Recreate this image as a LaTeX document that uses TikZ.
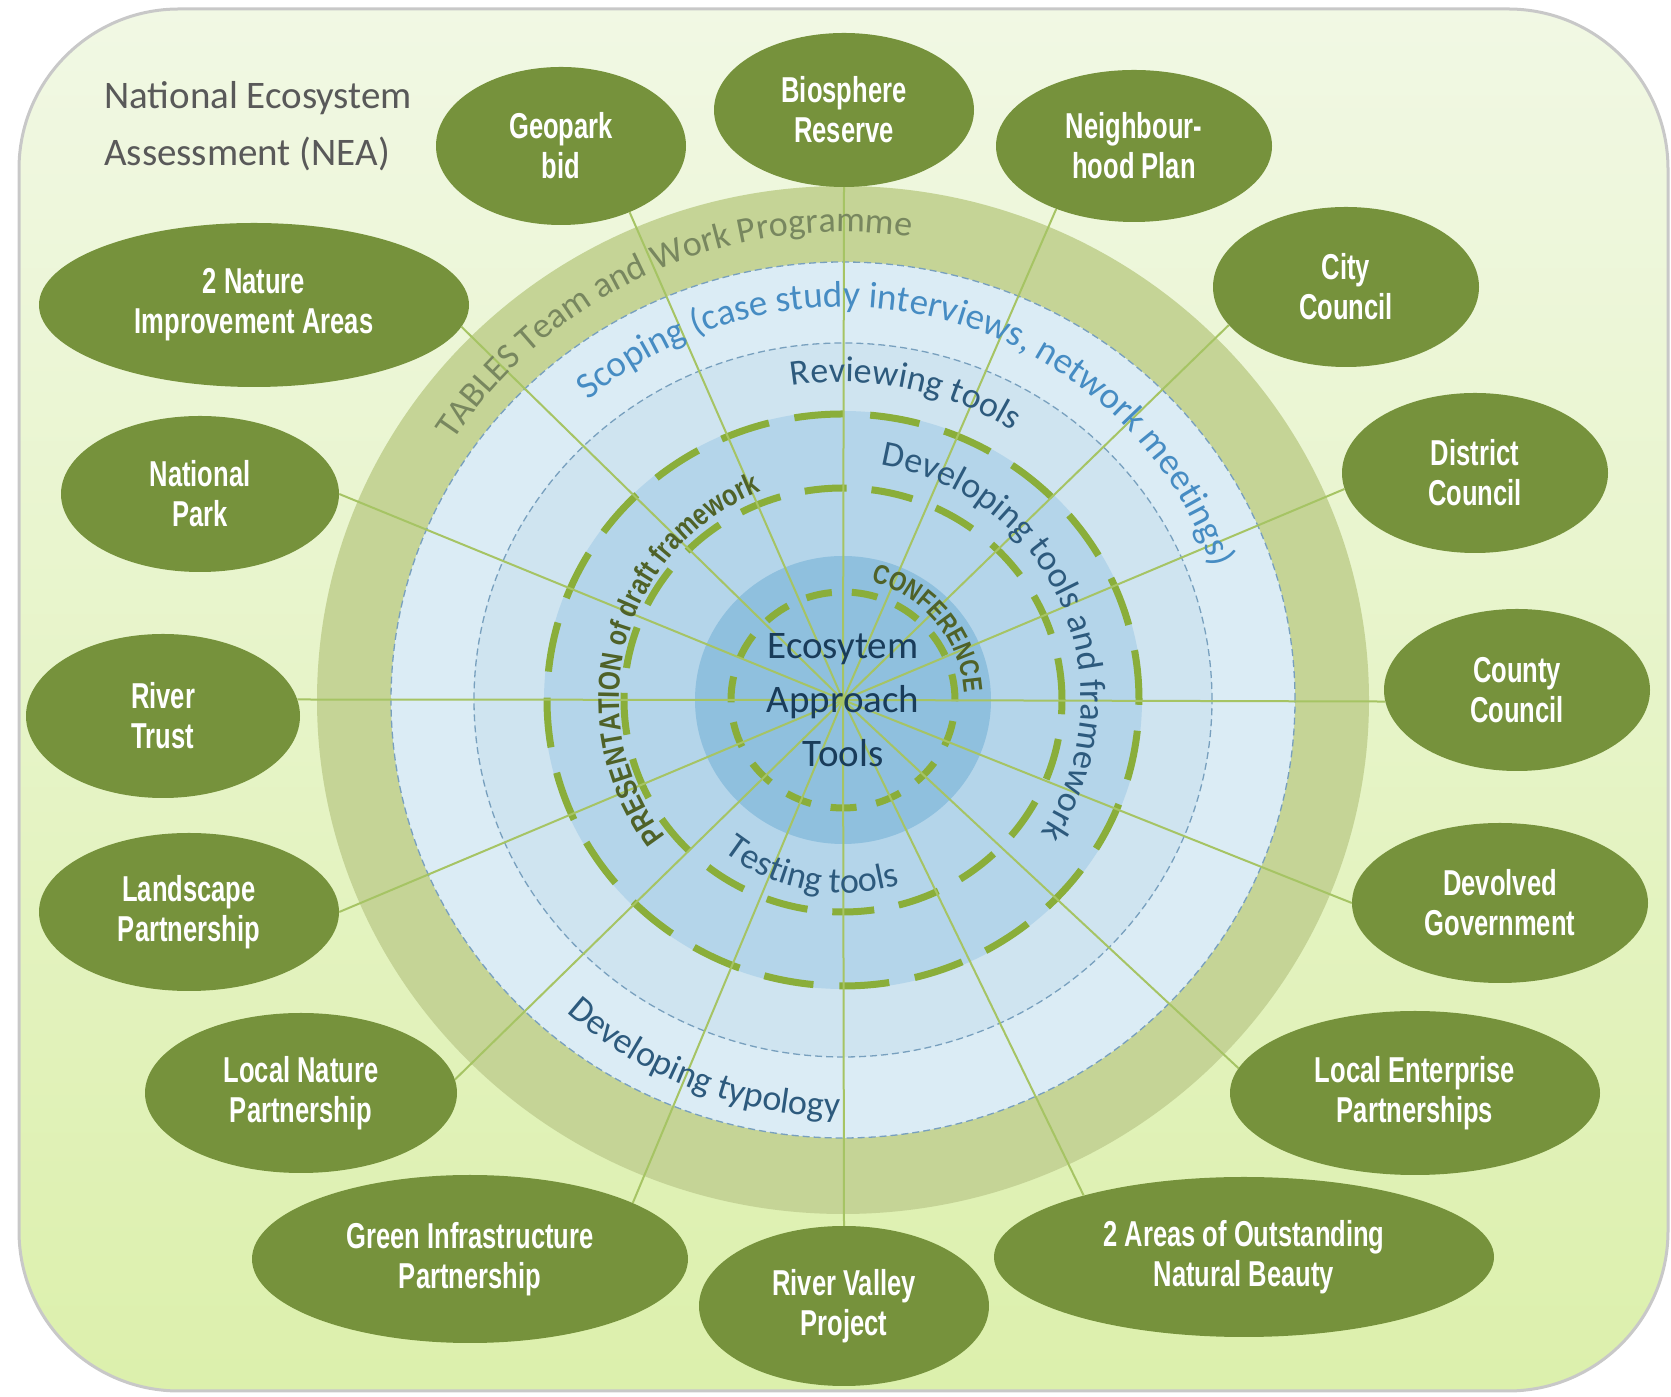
\documentclass[tikz,border=0pt]{standalone}
\usepackage{fontspec}
\setmainfont{Carlito}
\newfontfamily\ellfont[FakeStretch=0.71]{Liberation Sans}
\newfontfamily\condfont[FakeStretch=0.82]{Liberation Sans}
\usetikzlibrary{shapes.geometric,decorations.text}
\definecolor{bgtop}{RGB}{241,248,228}
\definecolor{bgbot}{RGB}{220,240,172}
\definecolor{framegray}{RGB}{200,200,200}
\definecolor{olivering}{RGB}{197,212,150}
\definecolor{lblue}{RGB}{219,236,245}
\definecolor{rblue}{RGB}{207,228,240}
\definecolor{mblue}{RGB}{180,213,234}
\definecolor{dblue}{RGB}{143,192,222}
\definecolor{thinblue}{RGB}{120,160,190}
\definecolor{gdashc}{RGB}{138,174,58}
\definecolor{ellgreen}{RGB}{118,146,60}
\definecolor{linkgreen}{RGB}{166,196,100}
\definecolor{scopeblue}{RGB}{70,140,195}
\definecolor{textblue}{RGB}{45,90,125}
\definecolor{ctext}{RGB}{25,60,90}
\definecolor{tablesgray}{RGB}{120,135,95}
\definecolor{textolive}{RGB}{79,98,40}
\definecolor{titlegray}{RGB}{89,89,89}
\newcommand\ringT{\fontsize{36}{36}\selectfont\color{tablesgray}}
\newcommand\ringS{\fontsize{37}{37}\selectfont\color{scopeblue}}
\newcommand\ringB{\fontsize{36}{36}\selectfont\color{textblue}}
\newcommand\ringO{\condfont\bfseries\fontsize{30}{30}\selectfont\color{textolive}}
\newcommand\ringC{\condfont\bfseries\fontsize{27}{27}\selectfont\color{textolive}}
\tikzset{
  org/.style={ellipse, fill=ellgreen, text=white, inner sep=0pt, align=center,
    font={\ellfont\bfseries\fontsize{36}{40}\selectfont}},
  link/.style={draw=linkgreen, line width=2},
  thindash/.style={draw=thinblue, line width=1.3, dash pattern=on 7 off 4},
  gdash/.style={draw=gdashc, line width=7},
  ringtext/.style={decorate, decoration={text along path, text align=center, text={#1}}}
}
\begin{document}
\begin{tikzpicture}[x=1pt,y=1pt]
\useasboundingbox (0,0) rectangle (1671,1397);
% frame
\path[top color=bgtop, bottom color=bgbot, draw=framegray, line width=3, rounded corners=160]
  (19,6) rectangle (1668,1388);
\coordinate (C) at (843,697);
% rings
\fill[olivering] (C) ellipse[x radius=526, y radius=514];
\fill[lblue] (C) ellipse[x radius=452, y radius=438];
\draw[thindash] (C) ellipse[x radius=452, y radius=438];
\fill[rblue] (C) ellipse[x radius=369, y radius=357];
\draw[thindash] (C) ellipse[x radius=369, y radius=357];
\fill[mblue] (C) ellipse[x radius=299, y radius=289];
\fill[dblue] (C) ellipse[x radius=148, y radius=144];
\draw[gdash, dash pattern=on 50 off 26] (C) ellipse[x radius=296, y radius=286];
\draw[gdash, dash pattern=on 42 off 25] (C) ellipse[x radius=219, y radius=212];
\draw[gdash, dash pattern=on 26 off 20] (C) ellipse[x radius=112, y radius=108];
% organisations
\node[org, minimum width=250, minimum height=158] (geo) at (561,1251) {Geopark\\bid};
\node[org, minimum width=260, minimum height=154] (bio) at (844,1287) {Biosphere\\Reserve};
\node[org, minimum width=276, minimum height=152] (nei) at (1134,1251) {Neighbour-\\hood Plan};
\node[org, minimum width=266, minimum height=160] (city) at (1346,1110) {City\\Council};
\node[org, minimum width=266, minimum height=160] (dist) at (1475,924) {District\\Council};
\node[org, minimum width=266, minimum height=162] (county) at (1517,707) {County\\Council};
\node[org, minimum width=296, minimum height=160] (dev) at (1500,494) {Devolved\\Government};
\node[org, minimum width=370, minimum height=164] (lep) at (1415,304) {Local Enterprise\\Partnerships};
\node[org, minimum width=500, minimum height=160] (aonb) at (1244,140) {2 Areas of Outstanding\\Natural Beauty};
\node[org, minimum width=290, minimum height=160] (rvp) at (844,91) {River Valley\\Project};
\node[org, minimum width=436, minimum height=168] (gip) at (470,138) {Green Infrastructure\\Partnership};
\node[org, minimum width=312, minimum height=160] (lnp) at (301,304) {Local Nature\\Partnership};
\node[org, minimum width=300, minimum height=158] (lsp) at (189,485) {Landscape\\Partnership};
\node[org, minimum width=274, minimum height=164] (rt) at (163,681) {River\\Trust};
\node[org, minimum width=278, minimum height=156] (np) at (200,903) {National\\Park};
\node[org, minimum width=430, minimum height=164] (nia) at (254,1092) {2 Nature\\Improvement Areas};
% connectors
\draw[link] (C) -- (geo.-44);
\draw[link] (C) -- (bio.-90);
\draw[link] (C) -- (nei.-141.7);
\draw[link] (C) -- (city.-162.6);
\draw[link] (C) -- (dist.-173);
\draw[link] (C) -- (county.185);
\draw[link] (C) -- (dev.180);
\draw[link] (C) -- (lep.172.6);
\draw[link] (C) -- (aonb.159.6);
\draw[link] (C) -- (rvp.90);
\draw[link] (C) -- (gip.19.7);
\draw[link] (C) -- (lnp.5.3);
\draw[link] (C) -- (lsp.0);
\draw[link] (C) -- (rt.7);
\draw[link] (C) -- (np.0);
\draw[link] (C) -- (nia.-6.9);
% ring texts
\path[ringtext={|\ringT|TABLES Team and Work Programme}]
  (C) ++(159:468) arc[start angle=159, end angle=69, radius=468];
\path[ringtext={|\ringS|Scoping (case study interviews, network meetings)}]
  (C) ++(145:393) arc[start angle=145, end angle=5, radius=393];
\path[ringtext={|\ringB|Reviewing tools}]
  (C) ++(113.5:318) arc[start angle=113.5, end angle=43.5, radius=318];
\path[ringtext={|\ringB|Developing tools and framework}]
  (C) ++(98.5:238) arc[start angle=98.5, end angle=-51.5, radius=238];
\path[ringtext={|\ringB|Testing tools}]
  (C) ++(-140.5:193) arc[start angle=-140.5, end angle=-60.5, radius=193];
\path[ringtext={|\ringB|Developing typology}]
  (C) ++(-146:417) arc[start angle=-146, end angle=-76, radius=417];
\path[ringtext={|\ringO|PRESENTATION of draft framework}]
  (C) ++(234.5:224) arc[start angle=234.5, end angle=94.5, radius=224];
\path[ringtext={|\ringC|CONFERENCE}]
  (C) ++(90:121) arc[start angle=90, end angle=-10, radius=121];
% centre
\node[align=center, text=ctext, inner sep=0pt, font={\fontsize{39}{54}\selectfont}] (core) at (C) {Ecosytem\\Approach\\Tools};
% title
\node[anchor=north west, align=left, inner sep=0pt, text=titlegray, font={\fontsize{39}{57}\selectfont}] (title) at (104,1316) {National Ecosystem\\Assessment (NEA)};
\end{tikzpicture}
\end{document}
